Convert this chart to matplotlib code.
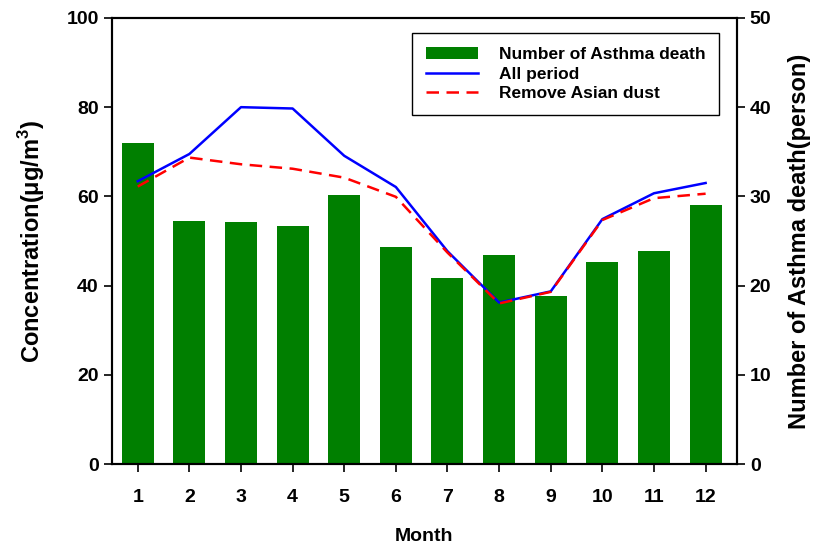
import matplotlib
matplotlib.use("Agg")
import matplotlib.pyplot as plt

plt.rcParams['font.family'] = ['Liberation Sans', 'DejaVu Sans']
plt.rcParams['font.weight'] = 'bold'
plt.rcParams['mathtext.fontset'] = 'custom'
plt.rcParams['mathtext.rm'] = 'Liberation Sans:bold'
plt.rcParams['mathtext.bf'] = 'Liberation Sans:bold'

months = [1, 2, 3, 4, 5, 6, 7, 8, 9, 10, 11, 12]
asthma_death = [36.0, 27.2, 27.1, 26.7, 30.2, 24.3, 20.9, 23.4, 18.8, 22.6, 23.9, 29.0]
all_period = [63.4, 69.5, 80.0, 79.7, 69.1, 62.1, 47.7, 36.2, 38.7, 54.9, 60.7, 63.0]
remove_dust = [62.2, 68.7, 67.2, 66.2, 64.2, 59.9, 47.4, 36.0, 38.6, 54.7, 59.6, 60.6]

fig = plt.figure(figsize=(8.23, 5.44), dpi=100)
ax = fig.add_axes([0.136, 0.147, 0.759, 0.820])
ax2 = ax.twinx()

# bars on the right axis, lines on the left one drawn on top
ax.set_zorder(ax2.get_zorder() + 1)
ax.patch.set_visible(False)

bars = ax2.bar(months, asthma_death, width=0.62, color='#007f00', label='Number of Asthma death')
l1, = ax.plot(months, all_period, color='blue', lw=1.8, label='All period')
l2, = ax.plot(months, remove_dust, color='red', lw=1.8, ls=(0, (5, 3)), label='Remove Asian dust')

ax.set_xlim(0.5, 12.6)
ax.set_ylim(0, 100)
ax2.set_ylim(0, 50)
ax.set_xticks(months)
ax.set_yticks([0, 20, 40, 60, 80, 100])
ax2.set_yticks([0, 10, 20, 30, 40, 50])

for a in (ax, ax2):
    a.tick_params(direction='out', length=6, width=1.2, labelsize=14)
    for s in a.spines.values():
        s.set_linewidth(1.5)
ax.tick_params(axis='x', pad=12)

ax.set_xlabel('Month', fontsize=14, fontweight='bold', labelpad=16)
ax.set_ylabel('Concentration(μg/m$^{3}$)', fontsize=17, fontweight='bold', labelpad=14)
ax2.set_ylabel('Number of Asthma death(person)', fontsize=17, fontweight='bold', labelpad=12)

leg = ax.legend([bars, l1, l2], ['Number of Asthma death', 'All period', 'Remove Asian dust'],
                loc='upper right', bbox_to_anchor=(0.986, 0.985), fontsize=12.5,
                fancybox=False, framealpha=1, edgecolor='black', handlelength=3.0,
                borderpad=0.8, labelspacing=0.25, handletextpad=1.2)
leg.get_frame().set_linewidth(1.0)

fig.savefig('out.png', dpi=100)
